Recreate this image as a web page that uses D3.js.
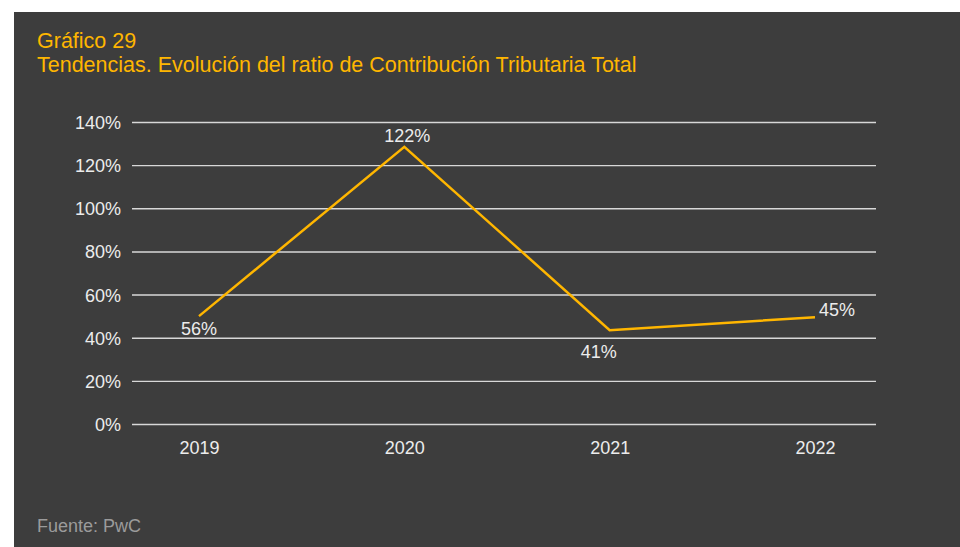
<!DOCTYPE html>
<html>
<head>
<meta charset="utf-8">
<script src="https://cdn.jsdelivr.net/npm/d3@7"></script>
<style>
  body { margin: 0; background: #fff; }
  svg text { font-family: "Liberation Sans", Arial, sans-serif; }
</style>
</head>
<body>
<div class="chart"></div>
<script>
var years = ["2019", "2020", "2021", "2022"];
// where the line is drawn in the picture (%)
var lineValues = [50, 128.5, 43.5, 49.5];
// labels printed next to the points
var pointLabels = ["56%", "122%", "41%", "45%"];
var yTicks = [0, 20, 40, 60, 80, 100, 120, 140];

var opts = {
  width: 960,
  height: 547,
  yellow: "#ffb600",
  bg: "#3d3d3d",
  text: "#ececec"
};

var svg = d3.select('.chart').append('svg')
  .attr('width', opts.width)
  .attr('height', opts.height);

svg.append('rect')
  .attr('x', 14).attr('y', 12)
  .attr('width', opts.width - 14)
  .attr('height', opts.height - 12)
  .attr('fill', opts.bg);

// titles
svg.append('text')
  .attr('x', 37).attr('y', 48)
  .attr('fill', opts.yellow)
  .attr('font-size', 21.5)
  .text('Gráfico 29');

svg.append('text')
  .attr('x', 37).attr('y', 72)
  .attr('fill', opts.yellow)
  .attr('font-size', 21.5)
  .text('Tendencias. Evolución del ratio de Contribución Tributaria Total');

var x = d3.scalePoint().domain(years).range([199, 815]);
var y = d3.scaleLinear().domain([0, 140]).range([424, 122]);

// gridlines + y labels
var yAxis = svg.append('g')
  .attr('transform', 'translate(132,0)')
  .call(d3.axisLeft(y).tickValues(yTicks).tickSize(-744)
    .tickPadding(11).tickFormat(function(d) { return d + '%'; }));
yAxis.select('.domain').remove();
yAxis.selectAll('line').attr('stroke', '#d8d8d8').attr('stroke-width', 1.4);
yAxis.selectAll('text')
  .attr('fill', opts.text)
  .attr('font-size', 18)
  .attr('dy', '0.36em');

// x labels
var xAxis = svg.append('g')
  .attr('transform', 'translate(0,424)')
  .call(d3.axisBottom(x).tickSize(0).tickPadding(17));
xAxis.select('.domain').remove();
xAxis.selectAll('text')
  .attr('fill', opts.text)
  .attr('font-size', 18);

var data = years.map(function(yr, i) {
  return { year: yr, value: lineValues[i], label: pointLabels[i] };
});

var line = d3.line()
  .x(function(d) { return x(d.year); })
  .y(function(d) { return y(d.value); });

svg.append('path')
  .datum(data)
  .attr('d', line)
  .attr('fill', 'none')
  .attr('stroke', opts.yellow)
  .attr('stroke-width', 2.5);

// label placement: below for 2019 and 2021, above for 2020, right for 2022
var labelPos = {
  "2019": { dx: 0, dy: 19, anchor: 'middle' },
  "2020": { dx: 3, dy: -5, anchor: 'middle' },
  "2021": { dx: -11, dy: 28, anchor: 'middle' },
  "2022": { dx: 4, dy: -1, anchor: 'start' }
};

svg.selectAll('text.point-label')
  .data(data)
  .enter()
  .append('text')
  .attr('class', 'point-label')
  .attr('x', function(d) { return x(d.year) + labelPos[d.year].dx; })
  .attr('y', function(d) { return y(d.value) + labelPos[d.year].dy; })
  .attr('text-anchor', function(d) { return labelPos[d.year].anchor; })
  .attr('fill', opts.text)
  .attr('font-size', 18)
  .text(function(d) { return d.label; });

svg.append('text')
  .attr('x', 37).attr('y', 532)
  .attr('fill', '#9b9b9b')
  .attr('font-size', 18)
  .text('Fuente: PwC');
</script>
</body>
</html>
